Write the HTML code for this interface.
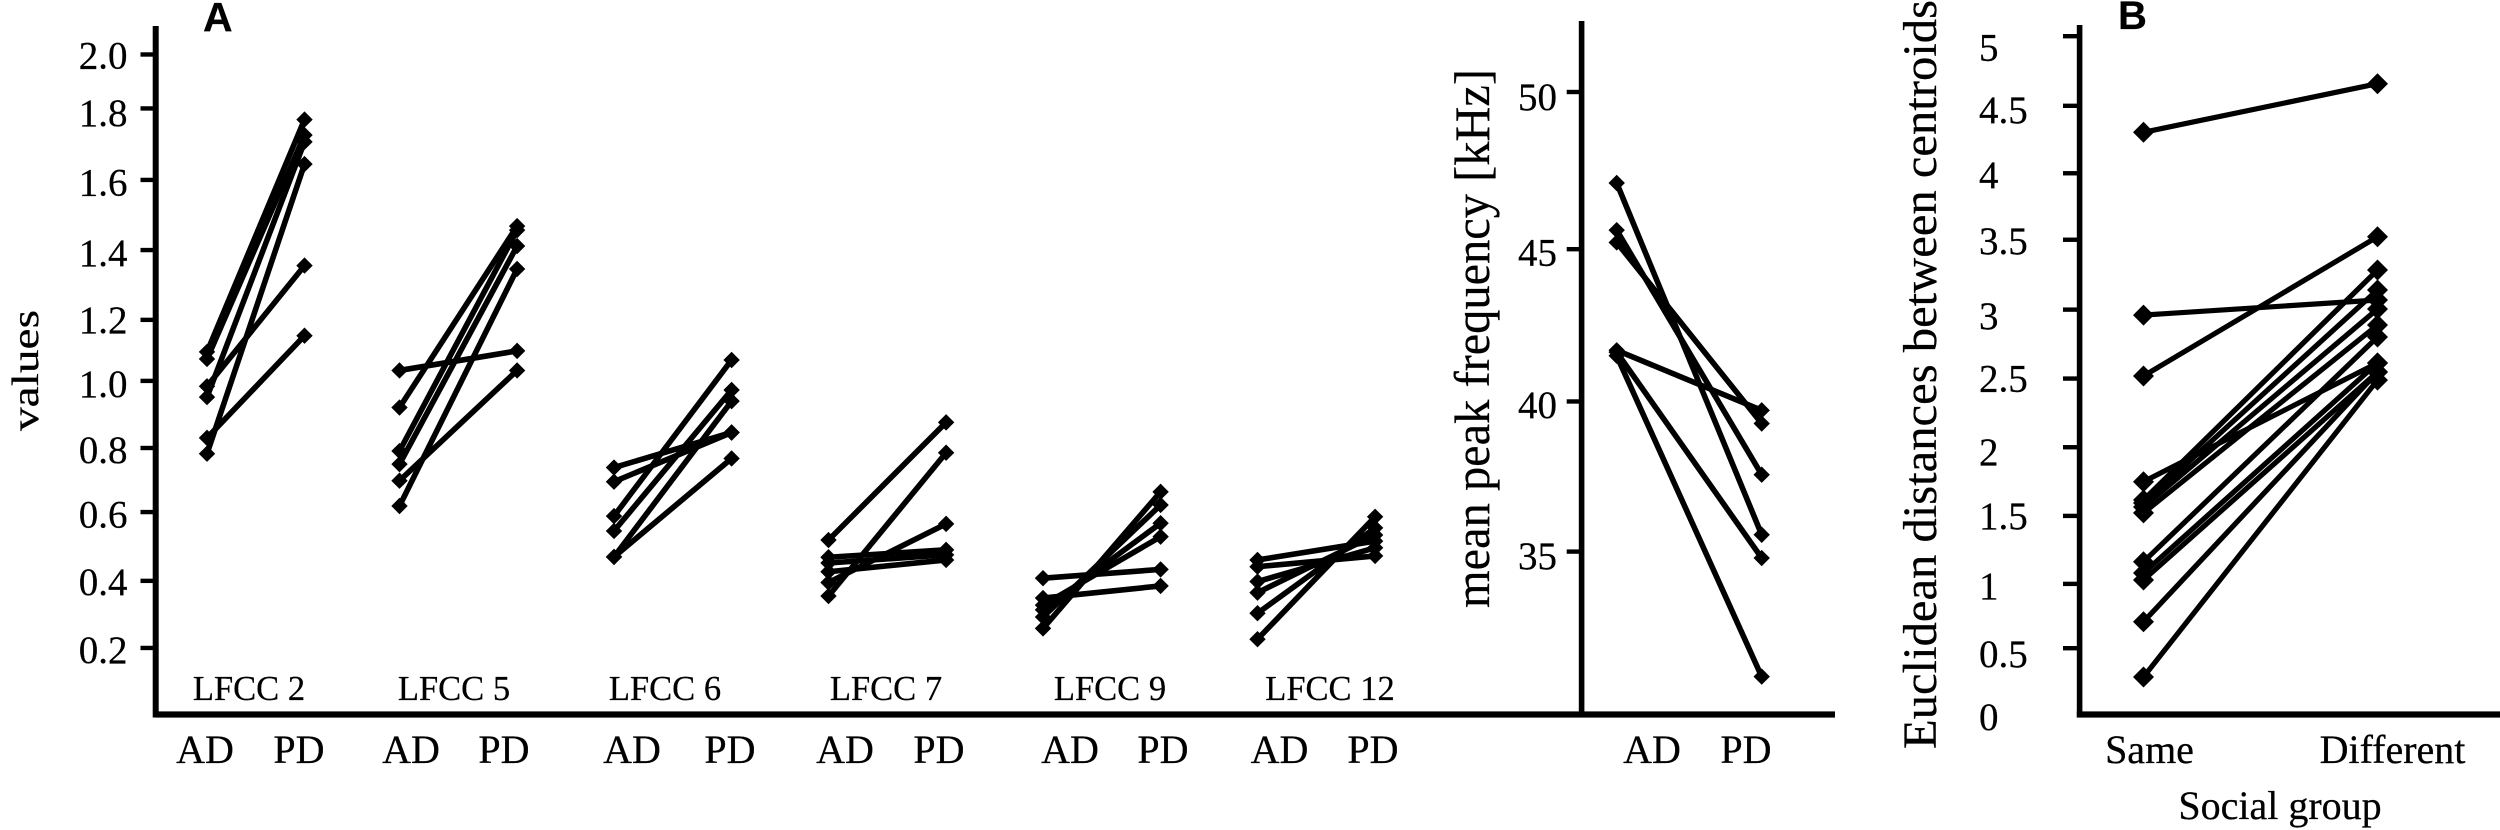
<!DOCTYPE html>
<html lang="en">
<head>
<meta charset="utf-8">
<title>LFCC and peak frequency paired plots</title>
<style>
html,body{margin:0;padding:0;background:#fff;}
svg{display:block;}
text{font-family:"Liberation Serif",serif;fill:#000;stroke:#000;stroke-width:0.25px;}
.bold{font-family:"Liberation Sans",sans-serif;font-weight:bold;}
</style>
</head>
<body>
<svg id="chart" xmlns="http://www.w3.org/2000/svg" width="2500" height="830" viewBox="0 0 2500 830">
  <rect x="0" y="0" width="2500" height="830" fill="#fff"/>

  <text class="bold" x="203" y="31" font-size="41">A</text>
  <text class="bold" x="2118" y="29" font-size="40">B</text>

  <rect x="152.7" y="26" width="6" height="691.5"/>
  <rect x="155" y="711.4" width="1680" height="6.2"/>
  <rect x="1578.8" y="21" width="5.6" height="692"/>
  <rect x="2076.8" y="25" width="5.6" height="692"/>
  <rect x="2076.8" y="711.4" width="423.2" height="6.2"/>

  <text transform="translate(38,431) rotate(-90)" font-size="38" textLength="121" lengthAdjust="spacingAndGlyphs">values</text>
  <text transform="translate(1489,608) rotate(-90)" font-size="50" textLength="539" lengthAdjust="spacingAndGlyphs">mean peak frequency [kHz]</text>
  <text transform="translate(1936,749) rotate(-90)" font-size="48" textLength="749" lengthAdjust="spacingAndGlyphs">Euclidean distances between centroids</text>

  <g font-size="34.5" text-anchor="middle">
    <text x="249" y="700">LFCC 2</text>
    <text x="454" y="700">LFCC 5</text>
    <text x="665" y="700">LFCC 6</text>
    <text x="886" y="700">LFCC 7</text>
    <text x="1110" y="700">LFCC 9</text>
    <text x="1330" y="700">LFCC 12</text>
  </g>

  <g font-size="40" text-anchor="middle">
    <text x="205" y="763">AD</text>
    <text x="299" y="763">PD</text>
    <text x="411" y="763">AD</text>
    <text x="504" y="763">PD</text>
    <text x="632" y="763">AD</text>
    <text x="730" y="763">PD</text>
    <text x="845" y="763">AD</text>
    <text x="939" y="763">PD</text>
    <text x="1070" y="763">AD</text>
    <text x="1163" y="763">PD</text>
    <text x="1279.5" y="763">AD</text>
    <text x="1373" y="763">PD</text>
    <text x="1652" y="763">AD</text>
    <text x="1746" y="763">PD</text>
    <text x="2149.5" y="763">Same</text>
    <text x="2392.5" y="763">Different</text>
    <text x="2280" y="819">Social group</text>
  </g>
</svg>
<script>
// Panel A: paired AD / PD values per LFCC coefficient
const lfcc2Ad = [1.078, 1.057, 0.976, 0.944, 0.823, 0.776];
const lfcc2Pd = [1.767, 1.721, 1.334, 1.701, 1.126, 1.635];
const lfcc5Ad = [1.023, 0.913, 0.784, 0.745, 0.696, 0.621];
const lfcc5Pd = [1.081, 1.451, 1.439, 1.392, 1.023, 1.324];
const lfcc6Ad = [0.735, 0.693, 0.591, 0.547, 0.470, 0.470];
const lfcc6Pd = [0.839, 0.839, 1.054, 0.965, 0.932, 0.762];
const lfcc7Ad = [0.520, 0.354, 0.394, 0.469, 0.452, 0.426];
const lfcc7Pd = [0.869, 0.779, 0.568, 0.491, 0.476, 0.461];
const lfcc9Ad = [0.407, 0.348, 0.258, 0.292, 0.313, 0.327];
const lfcc9Pd = [0.433, 0.384, 0.663, 0.624, 0.570, 0.530];
const lfcc12Ad = [0.226, 0.303, 0.364, 0.397, 0.461, 0.441];
const lfcc12Pd = [0.589, 0.556, 0.535, 0.497, 0.517, 0.473];
const lfccNames = ['lfcc-2', 'lfcc-5', 'lfcc-6', 'lfcc-7', 'lfcc-9', 'lfcc-12'];

// Panel A: axis ticks, expressed in value units along the axis
const valueTickLabels = ['2.0', '1.8', '1.6', '1.4', '1.2', '1.0', '0.8', '0.6', '0.4', '0.2'];
const valueTickAt = [1.96, 1.80, 1.588, 1.380, 1.173, 0.992, 0.793, 0.603, 0.399, 0.20];
const valueLabelAt = [1.957, 1.787, 1.580, 1.371, 1.172, 0.983, 0.787, 0.596, 0.395, 0.194];

// Mean peak frequency panel
const freqAd = [47.03, 45.49, 45.09, 41.57, 41.51, 41.39];
const freqPd = [35.55, 37.51, 39.18, 39.61, 34.79, 30.92];
const freqTickLabels = ['50', '45', '40', '35'];
const freqTickAt = [50, 44.87, 39.9, 35];
const freqLabelAt = [49.84, 44.76, 39.79, 34.86];

// Panel B: Euclidean distances by social group
const distSame = [4.292, 2.945, 2.496, 1.717, 1.582, 1.560, 1.531, 1.487, 1.127, 1.044, 0.993, 0.685, 0.278];
const distDifferent = [4.650, 3.056, 3.522, 2.592, 3.277, 3.130, 2.990, 2.872, 2.783, 2.592, 2.525, 2.525, 2.466];
const distTickLabels = ['5', '4.5', '4', '3.5', '3', '2.5', '2', '1.5', '1', '0.5', '0'];
const distTickAt = [5, 4.487, 3.99, 3.5, 2.985, 2.477, 1.971, 1.465, 0.964, 0.49];
const distLabelAt = [4.916, 4.455, 3.977, 3.490, 2.938, 2.477, 1.935, 1.465, 0.948, 0.447, -0.017];

const lfccAd = [lfcc2Ad, lfcc5Ad, lfcc6Ad, lfcc7Ad, lfcc9Ad, lfcc12Ad];
const lfccPd = [lfcc2Pd, lfcc5Pd, lfcc6Pd, lfcc7Pd, lfcc9Pd, lfcc12Pd];

const NS = 'http://www.w3.org/2000/svg';
const svg = document.getElementById('chart');

function yValue(v) { return 715.4 - v * 337.2; }
function yFreq(v) { return 92 + (50 - v) * 30.64; }
function yDist(v) { return 714.7 - v * 135.7; }

function xLfcc(group, side) {
  if (group === 0) return side === 0 ? 207 : 304.5;
  return 399.5 + (group - 1) * 214.5 + side * 117.6;
}
function xFreq(side) { return side === 0 ? 1616.7 : 1761.7; }
function xDist(side) { return side === 0 ? 2143.5 : 2377.5; }

function make(tag) { return document.createElementNS(NS, tag); }

function drawTicks(group, labels, tickAt, labelAt, yScale, tickLeft, tickRight, labelX, anchor, prefix) {
  tickAt.forEach(function (value, i) {
    const tick = make('line');
    
    
    tick.setAttribute('x1', tickLeft);
    tick.setAttribute('x2', tickRight);
    tick.setAttribute('y1', yScale(value));
    tick.setAttribute('y2', yScale(value));
    tick.setAttribute('stroke', '#000');
    tick.setAttribute('stroke-width', '4.4');
    group.appendChild(tick);
  });
  labels.forEach(function (label, i) {
    const text = make('text');
    
    
    text.setAttribute('x', labelX);
    text.setAttribute('y', yScale(labelAt[i]) + 13);
    text.setAttribute('font-size', '39');
    text.setAttribute('text-anchor', anchor);
    text.textContent = label;
    group.appendChild(text);
  });
}

function diamond(x, y, r) {
  return (x - r) + ',' + y + ' ' + x + ',' + (y - r) + ' ' + (x + r) + ',' + y + ' ' + x + ',' + (y + r);
}

function drawPair(group, x1, y1, x2, y2, r, lineWidth) {
  const line = make('line');
  
  
  line.setAttribute('x1', x1);
  line.setAttribute('y1', y1);
  line.setAttribute('x2', x2);
  line.setAttribute('y2', y2);
  line.setAttribute('stroke', '#000');
  line.setAttribute('stroke-width', lineWidth);
  group.appendChild(line);

  const start = make('polygon');
  
  
  start.setAttribute('points', diamond(x1, y1, r));
  start.setAttribute('fill', '#000');
  group.appendChild(start);

  const end = make('polygon');
  
  
  end.setAttribute('points', diamond(x2, y2, r));
  end.setAttribute('fill', '#000');
  group.appendChild(end);
}

const tickLayer = make('g');


svg.appendChild(tickLayer);

drawTicks(tickLayer, valueTickLabels, valueTickAt, valueLabelAt, yValue, 140.5, 155, 127.5, 'end', 'values');
drawTicks(tickLayer, freqTickLabels, freqTickAt, freqLabelAt, yFreq, 1566.7, 1581, 1557, 'end', 'frequency');
drawTicks(tickLayer, distTickLabels, distTickAt, distLabelAt, yDist, 2063, 2079, 1979, 'start', 'distance');

lfccAd.forEach(function (adValues, g) {
  const series = make('g');
  
  
  svg.appendChild(series);
  adValues.forEach(function (ad, i) {
    drawPair(series, xLfcc(g, 0), yValue(ad), xLfcc(g, 1), yValue(lfccPd[g][i]), 8.2, 5.6);
  });
});

const freqSeries = make('g');


svg.appendChild(freqSeries);
freqAd.forEach(function (ad, i) {
  drawPair(freqSeries, xFreq(0), yFreq(ad), xFreq(1), yFreq(freqPd[i]), 8.2, 5.6);
});

const distSeries = make('g');


svg.appendChild(distSeries);
distSame.forEach(function (same, i) {
  drawPair(distSeries, xDist(0), yDist(same), xDist(1), yDist(distDifferent[i]), 10.5, 5.2);
});
</script>
</body>
</html>
